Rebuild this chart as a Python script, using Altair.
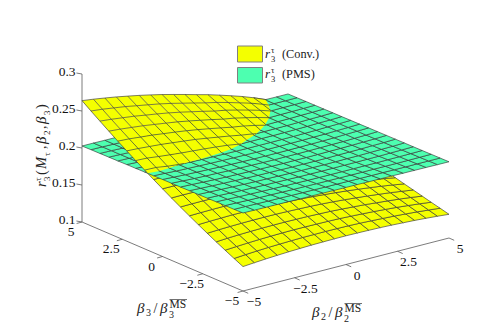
import altair as alt
import pandas as pd

alt.data_transformers.disable_max_rows()

# r3 (Conv.) : one list per beta2 node, running over beta3 from -5 to 5
conv = [
 [.1330,.1388,.1448,.1509,.1573,.1638,.1705,.1773,.1843,.1915,.1989,.2064,.2141,.2220,.2300,.2383,.2467,.2552,.2640],
 [.1343,.1400,.1458,.1519,.1581,.1644,.1709,.1776,.1845,.1915,.1987,.2060,.2135,.2212,.2291,.2371,.2452,.2536,.2620],
 [.1354,.1410,.1467,.1526,.1586,.1648,.1712,.1777,.1844,.1912,.1970,.2037,.2116,.2200,.2276,.2354,.2433,.2514,.2596],
 [.1363,.1418,.1474,.1531,.1590,.1652,.1714,.1777,.1842,.1904,.1958,.2022,.2100,.2188,.2262,.2337,.2414,.2492,.2571],
 [.1371,.1424,.1479,.1535,.1592,.1651,.1711,.1773,.1836,.1896,.1950,.2010,.2085,.2171,.2242,.2315,.2389,.2464,.2542],
 [.1377,.1429,.1483,.1537,.1593,.1650,.1709,.1769,.1830,.1888,.1942,.2000,.2073,.2154,.2223,.2293,.2365,.2437,.2512],
 [.1382,.1433,.1485,.1538,.1592,.1648,.1704,.1762,.1822,.1880,.1934,.1992,.2060,.2136,.2202,.2270,.2339,.2409,.2479],
 [.1385,.1434,.1485,.1536,.1589,.1643,.1697,.1753,.1811,.1867,.1922,.1981,.2046,.2113,.2177,.2242,.2309,.2376,.2444],
 [.1387,.1435,.1483,.1534,.1584,.1636,.1689,.1743,.1798,.1854,.1912,.1969,.2029,.2088,.2150,.2212,.2275,.2339,.2405],
 [.1388,.1434,.1481,.1529,.1579,.1629,.1679,.1731,.1784,.1838,.1892,.1949,.2005,.2063,.2121,.2181,.2241,.2302,.2365],
 [.1386,.1432,.1477,.1524,.1571,.1619,.1668,.1718,.1768,.1820,.1872,.1926,.1980,.2035,.2091,.2148,.2205,.2264,.2323],
 [.1383,.1427,.1470,.1515,.1561,.1606,.1654,.1702,.1749,.1799,.1849,.1900,.1952,.2012,.2067,.2122,.2177,.2230,.2283],
 [.1379,.1420,.1462,.1505,.1549,.1593,.1637,.1683,.1729,.1776,.1823,.1871,.1921,.1981,.2035,.2087,.2139,.2189,.2237],
 [.1373,.1412,.1453,.1494,.1535,.1577,.1620,.1663,.1706,.1751,.1796,.1841,.1888,.1945,.1999,.2050,.2099,.2145,.2189],
 [.1365,.1404,.1442,.1480,.1520,.1560,.1600,.1641,.1683,.1725,.1767,.1811,.1854,.1906,.1958,.2008,.2056,.2100,.2139],
 [.1357,.1393,.1430,.1466,.1503,.1541,.1579,.1618,.1656,.1696,.1736,.1776,.1817,.1862,.1912,.1960,.2006,.2046,.2082],
 [.1346,.1381,.1415,.1450,.1485,.1521,.1557,.1593,.1629,.1666,.1703,.1741,.1779,.1820,.1861,.1904,.1945,.1985,.2019],
 [.1334,.1366,.1399,.1432,.1464,.1498,.1531,.1565,.1599,.1633,.1667,.1703,.1737,.1772,.1808,.1844,.1879,.1916,.1952],
 [.1320,.1351,.1380,.1411,.1442,.1472,.1504,.1535,.1566,.1598,.1630,.1661,.1694,.1726,.1758,.1791,.1824,.1857,.1890],
]
# r3 (PMS)
pms = [
 [.2054,.2052,.2051,.2050,.2048,.2046,.2045,.2043,.2042,.2041,.2039,.2038,.2036,.2035,.2033,.2032,.2030,.2029,.2027],
 [.2053,.2051,.2048,.2046,.2043,.2041,.2038,.2037,.2035,.2034,.2033,.2031,.2030,.2029,.2029,.2028,.2028,.2028,.2027],
 [.2051,.2048,.2043,.2040,.2037,.2035,.2032,.2030,.2027,.2026,.2025,.2024,.2024,.2023,.2023,.2022,.2023,.2025,.2025],
 [.2050,.2045,.2040,.2037,.2032,.2030,.2027,.2024,.2022,.2021,.2019,.2019,.2018,.2019,.2019,.2020,.2021,.2022,.2025],
 [.2049,.2044,.2038,.2033,.2029,.2025,.2023,.2019,.2018,.2016,.2015,.2014,.2014,.2014,.2016,.2016,.2019,.2021,.2024],
 [.2047,.2041,.2035,.2030,.2025,.2021,.2018,.2015,.2012,.2011,.2010,.2009,.2010,.2011,.2011,.2014,.2017,.2019,.2023],
 [.2046,.2039,.2032,.2027,.2023,.2019,.2014,.2012,.2010,.2007,.2007,.2007,.2007,.2008,.2010,.2012,.2015,.2018,.2023],
 [.2045,.2038,.2031,.2025,.2020,.2016,.2012,.2009,.2007,.2004,.2004,.2004,.2005,.2005,.2007,.2010,.2014,.2017,.2022],
 [.2043,.2036,.2029,.2022,.2017,.2013,.2010,.2006,.2004,.2002,.2002,.2002,.2002,.2003,.2005,.2008,.2011,.2016,.2021],
 [.2042,.2035,.2028,.2021,.2016,.2012,.2008,.2004,.2002,.2001,.2000,.2000,.2000,.2002,.2004,.2007,.2010,.2015,.2020],
 [.2041,.2034,.2027,.2020,.2015,.2011,.2008,.2005,.2003,.2000,.2000,.2000,.2001,.2002,.2004,.2006,.2010,.2015,.2020],
 [.2039,.2032,.2026,.2020,.2015,.2010,.2007,.2004,.2002,.2000,.2000,.2000,.2001,.2002,.2003,.2006,.2010,.2014,.2019],
 [.2038,.2031,.2025,.2020,.2016,.2011,.2007,.2005,.2003,.2001,.2001,.2001,.2001,.2003,.2004,.2006,.2009,.2013,.2018],
 [.2037,.2031,.2026,.2021,.2016,.2013,.2010,.2007,.2005,.2003,.2002,.2002,.2003,.2004,.2005,.2008,.2011,.2014,.2018],
 [.2035,.2030,.2025,.2020,.2017,.2013,.2011,.2008,.2007,.2005,.2005,.2004,.2005,.2005,.2007,.2008,.2011,.2014,.2017],
 [.2034,.2029,.2025,.2022,.2018,.2016,.2013,.2011,.2009,.2008,.2007,.2007,.2007,.2008,.2008,.2010,.2011,.2013,.2016],
 [.2033,.2030,.2026,.2023,.2021,.2019,.2017,.2015,.2013,.2013,.2012,.2012,.2012,.2012,.2012,.2012,.2013,.2015,.2016],
 [.2031,.2029,.2027,.2025,.2023,.2021,.2019,.2018,.2017,.2017,.2016,.2015,.2014,.2014,.2014,.2014,.2014,.2014,.2014],
 [.2030,.2029,.2028,.2027,.2026,.2026,.2025,.2024,.2023,.2022,.2021,.2020,.2019,.2019,.2018,.2017,.2016,.2015,.2014],
]
z_ticks = [0.1, 0.15, 0.2, 0.25, 0.3]
z_labels = ["0.1", "0.15", "0.2", "0.25", "0.3"]
beta_ticks = [-5, -2.5, 0, 2.5, 5]
beta_labels = ["\u22125", "\u22122.5", "0", "2.5", "5"]

YELLOW = "#f4ff00"
GREEN = "#4dffb0"
MESH = "#383838"
AXIS = "#5a5a5a"
SERIF = "Liberation Serif"


def view(b2, b3, z):
    """Oblique 3-D view of the box: data coordinates to canvas position."""
    u = (b2 + 5) / 10
    v = (b3 + 5) / 10
    return 243 + 206 * u - 161 * v, 291 - 53 * u - 69 * v - 740 * (z - 0.1)


def node(i):
    return -5 + 10 * i / 18


def at(surface_z, a, b):
    return view(node(a), node(b), surface_z[a][b])


def diff(a, b):
    return conv[a][b] - pms[a][b]


low_rows, pms_rows, high_rows, edge_rows = [], [], [], []
for i in range(18):
    for j in range(18):
        quad = [(i, j), (i + 1, j), (i + 1, j + 1), (i, j + 1)]
        cid = f"{i}-{j}"
        ds = [diff(a, b) for a, b in quad]
        pts = [at(conv, a, b) for a, b in quad]
        # green cell, and the yellow cell where it lies under the green sheet
        for k, (a, b) in enumerate(quad + quad[:1]):
            x, y = at(pms, a, b)
            pms_rows.append({"x": x, "y": y, "c": cid, "k": k})
            if min(ds) <= 0:
                x, y = at(conv, a, b)
                low_rows.append({"x": x, "y": y, "c": cid, "k": k})
        # part of the yellow cell above the green sheet
        poly = []
        for n in range(4):
            d0, d1 = ds[n], ds[(n + 1) % 4]
            p0, p1 = pts[n], pts[(n + 1) % 4]
            if d0 > 0:
                poly.append(p0)
            if (d0 > 0) != (d1 > 0):
                t = d0 / (d0 - d1)
                poly.append((p0[0] + t * (p1[0] - p0[0]), p0[1] + t * (p1[1] - p0[1])))
        if poly:
            for k, p in enumerate(poly + poly[:1]):
                high_rows.append({"x": p[0], "y": p[1], "c": cid, "k": k})

# yellow mesh lines over the green sheet
for i in range(19):
    for j in range(19):
        for name, n2 in (("u", (i + 1, j)), ("v", (i, j + 1))):
            if n2[0] > 18 or n2[1] > 18:
                continue
            d0, d1 = diff(i, j), diff(*n2)
            if d0 <= 0 and d1 <= 0:
                continue
            p0, p1 = at(conv, i, j), at(conv, *n2)
            if d0 <= 0 or d1 <= 0:
                t = d0 / (d0 - d1)
                m = (p0[0] + t * (p1[0] - p0[0]), p0[1] + t * (p1[1] - p0[1]))
                if d0 > 0:
                    p1 = m
                else:
                    p0 = m
            cid = f"{name}{i}-{j}"
            edge_rows.append({"x": p0[0], "y": p0[1], "c": cid, "k": 0})
            edge_rows.append({"x": p1[0], "y": p1[1], "c": cid, "k": 1})

xs = alt.Scale(domain=[8, 487], nice=False, zero=False)
ys = alt.Scale(domain=[324, 8], nice=False, zero=False)
X = alt.X("x:Q", scale=xs, axis=None)
Y = alt.Y("y:Q", scale=ys, axis=None)


def path(rows, **mark):
    return alt.Chart(pd.DataFrame(rows)).mark_line(strokeJoin="miter", **mark).encode(
        x=X, y=Y, detail="c:N", order="k:Q"
    )


# box edges and ticks
seg = []


def add_seg(name, p, q):
    seg.append({"x": p[0], "y": p[1], "c": name, "k": 0})
    seg.append({"x": q[0], "y": q[1], "c": name, "k": 1})


add_seg("z", view(-5, 5, 0.1), view(-5, 5, 0.3))
add_seg("b3", view(-5, 5, 0.1), view(-5, -5, 0.1))
add_seg("b2", view(-5, -5, 0.1), view(5, -5, 0.1))
for t in z_ticks:
    p = view(-5, 5, t)
    add_seg(f"tz{t}", p, (p[0] - 5.6, p[1] - 1.0))
for t in beta_ticks:
    p = view(-5, t, 0.1)
    add_seg(f"t3{t}", p, (p[0] - 5.4, p[1] + 1.5))
    p = view(t, -5, 0.1)
    add_seg(f"t2{t}", p, (p[0] + 5.2, p[1] + 2.3))
axes = path(seg, stroke=AXIS, strokeWidth=0.8)

# tick labels
tick_rows = []
for t, lab in zip(z_ticks, z_labels):
    p = view(-5, 5, t)
    tick_rows.append({"x": p[0] - 6.5, "y": p[1] - 2, "t": lab, "a": "right"})
for t, lab in zip(beta_ticks, beta_labels):
    p = view(-5, t, 0.1)
    tick_rows.append({"x": p[0] - 11, "y": p[1] + 10, "t": lab, "a": "center"})
    p = view(t, -5, 0.1)
    tick_rows.append({"x": p[0] + 11, "y": p[1] + 11, "t": lab, "a": "center"})
tick_df = pd.DataFrame(tick_rows)
tick_r = alt.Chart(tick_df[tick_df.a == "right"]).mark_text(
    font=SERIF, fontSize=13.5, align="right", baseline="middle", color="#111"
).encode(x=X, y=Y, text="t:N")
tick_c = alt.Chart(tick_df[tick_df.a == "center"]).mark_text(
    font=SERIF, fontSize=13.5, align="center", baseline="middle", color="#111"
).encode(x=X, y=Y, text="t:N")


def pieces(items, angle=0, italic=False):
    df = pd.DataFrame(items, columns=["t", "x", "y", "s"])
    kw = {"fontStyle": "italic"} if italic else {}
    return alt.Chart(df).mark_text(
        font=SERIF, align="left", baseline="alphabetic", angle=angle, color="#222", **kw
    ).encode(x=X, y=Y, text="t:N", size=alt.Size("s:Q", scale=None, legend=None))


def beta_title(dx, dy, d):
    return (
        [("\u03b2", 137 + dx, 313 + dy, 15), ("\u03b2", 160 + dx, 313 + dy, 15)],
        [(d, 146 + dx, 315.5 + dy, 10), ("/", 153.5 + dx, 313 + dy, 14),
         (d, 169 + dx, 317.5 + dy, 10), ("MS", 169.5 + dx, 308 + dy, 11.5)],
    )


it1, re1 = beta_title(0, 0, "3")
it2, re2 = beta_title(175, 4, "2")
italics = it1 + it2 + [("r", 265, 58, 13), ("r", 265, 78, 13)]
regular = re1 + re2 + [
    ("\u03c4", 271, 53, 8.5), ("3", 271, 62, 8.5), ("(Conv.)", 282, 58, 12.3),
    ("\u03c4", 271, 73, 8.5), ("3", 271, 82, 8.5), ("(PMS)", 282, 78, 12.3),
]
rot_it = [("r", 46, 187, 14.5), ("M", 46, 169, 14.5), ("\u03b2", 46, 144, 15), ("\u03b2", 46, 124, 15)]
rot_re = [
    ("\u03c4", 41, 181, 9), ("3", 49.5, 181, 9), ("(", 46, 175, 14.5), ("\u03c4", 49.5, 156, 9),
    (",", 46, 149, 14), ("2", 49.5, 135, 9), (",", 46, 129, 14), ("3", 49.5, 115, 9), (")", 46, 109, 14.5),
]

overline = alt.Chart(pd.DataFrame(
    {"x": [169.5, 344.5], "x2": [187, 362], "y": [299.5, 303.5]}
)).mark_rule(stroke="#333", strokeWidth=0.7).encode(x=X, x2="x2:Q", y=Y)

legend = alt.Chart(pd.DataFrame({
    "x": [237.5, 237.5], "x2": [262.5, 262.5], "y": [46, 67.5], "y2": [62, 83],
    "c": ["Conv.", "PMS"],
})).mark_rect(stroke="#808080", strokeWidth=1).encode(
    x=X, x2="x2:Q", y=Y, y2="y2:Q",
    fill=alt.Fill("c:N", scale=alt.Scale(domain=["Conv.", "PMS"], range=[YELLOW, GREEN]), legend=None),
)

chart = alt.layer(
    axes,
    path(low_rows, fill=YELLOW, stroke=MESH, strokeWidth=0.65),
    path(pms_rows, fill=GREEN, stroke=MESH, strokeWidth=0.65),
    path(high_rows, fill=YELLOW, strokeWidth=0),
    path(edge_rows, stroke=MESH, strokeWidth=0.65),
    tick_r, tick_c,
    pieces(italics, italic=True), pieces(regular),
    pieces(rot_it, angle=270, italic=True), pieces(rot_re, angle=270),
    overline, legend,
).properties(
    width=479, height=316, padding=0, autosize=alt.AutoSizeParams(type="none")
).configure_view(stroke=None)

chart.save("out.html", embed_options={"renderer": "svg", "actions": False})
